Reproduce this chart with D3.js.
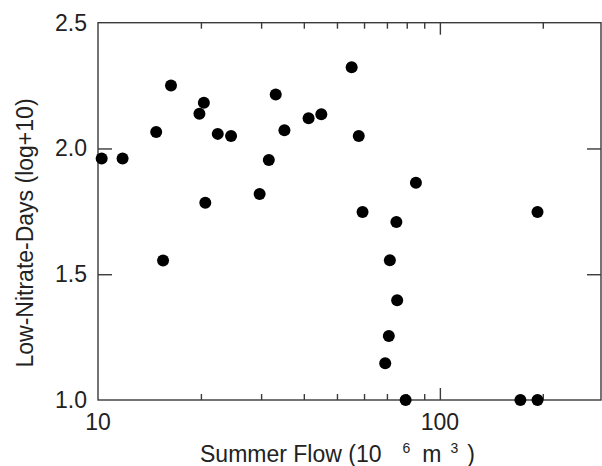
<!DOCTYPE html>
<html>
<head>
	<meta charset="utf-8">
	<title>low-nitrate-days</title>
	<style type="text/css">
		body { margin: 0; background: #fff; }
		text { font-family: "Liberation Sans", Arial, sans-serif; fill: #222; }
	</style>
</head>
<body>
<script type="text/javascript" src="https://cdn.jsdelivr.net/npm/d3@7/dist/d3.min.js"></script>
<script type="text/javascript">
	// data
	var flow = [10.25, 11.8, 14.8, 16.35, 15.5, 19.8, 20.4, 20.6, 22.4, 24.5,
		29.7, 31.6, 33.1, 35.1, 41.3, 45.0, 55.2, 57.9, 85.1, 59.4,
		74.6, 71.4, 75.0, 70.9, 69.2, 79.4, 172, 193, 193];
	var days = [1.96, 1.96, 2.065, 2.25, 1.555, 2.138, 2.182, 1.784, 2.058, 2.05,
		1.819, 1.954, 2.215, 2.072, 2.12, 2.136, 2.323, 2.05, 1.864, 1.747,
		1.708, 1.556, 1.397, 1.254, 1.146, 1.0, 1.0, 1.0, 1.747];
	var yTicks = [1.0, 1.5, 2.0, 2.5];
	var xLabels = [10, 100];
	var xMinor = [20, 30, 40, 50, 60, 70, 80, 90, 200];

	var w = 602, h = 466;
	var pLeft = 98, pRight = 601, pTop = 22.7, pBottom = 400;

	var svg = d3.select("body").append("svg").attr("width", w).attr("height", h);

	var x = d3.scaleLog().domain([10, 296]).range([pLeft, pRight]);
	var y = d3.scaleLinear().domain([1, 2.5]).range([pBottom, pTop]);

	var line = "#3a3a3a";

	// frame
	svg.append("rect")
		.attr("x", pLeft).attr("y", pTop)
		.attr("width", pRight - pLeft).attr("height", pBottom - pTop)
		.attr("fill", "none").attr("stroke", line).attr("stroke-width", 1.4);

	// inside ticks, all four sides
	function ticks(axis, tx, ty) {
		var g = svg.append("g").attr("transform", "translate(" + tx + "," + ty + ")").call(axis);
		g.select(".domain").remove();
		g.selectAll(".tick line").attr("stroke", line).attr("stroke-width", 1.4);
		g.selectAll("text").remove();
	}
	ticks(d3.axisBottom(x).tickValues(xMinor).tickSize(-6), 0, pBottom);
	ticks(d3.axisBottom(x).tickValues([100]).tickSize(-12), 0, pBottom);
	ticks(d3.axisTop(x).tickValues(xMinor).tickSize(-6), 0, pTop);
	ticks(d3.axisTop(x).tickValues([100]).tickSize(-12), 0, pTop);
	ticks(d3.axisLeft(y).tickValues([1.5, 2.0]).tickSize(-14), pLeft, 0);
	ticks(d3.axisRight(y).tickValues([1.5, 2.0]).tickSize(-14), pRight, 0);

	// tick labels
	svg.selectAll("text.ylab").data(yTicks).enter().append("text")
		.attr("class", "ylab")
		.attr("x", 87).attr("y", d => y(d) + 8)
		.attr("text-anchor", "end").attr("font-size", 23)
		.text(d => d.toFixed(1));
	svg.selectAll("text.xlab").data(xLabels).enter().append("text")
		.attr("class", "xlab")
		.attr("x", d => x(d)).attr("y", 430)
		.attr("text-anchor", "middle").attr("font-size", 23)
		.text(d => d);

	// axis titles
	var xt = svg.append("text").attr("x", 200).attr("y", 462).attr("font-size", 23);
	xt.append("tspan").text("Summer Flow (10");
	xt.append("tspan").attr("dx", 21).attr("dy", -9).attr("font-size", 14).text("6");
	xt.append("tspan").attr("dx", 12).attr("dy", 9).text("m");
	xt.append("tspan").attr("dx", 9).attr("dy", -9).attr("font-size", 14).text("3");
	xt.append("tspan").attr("dx", 9).attr("dy", 9).text(")");

	svg.append("text")
		.attr("transform", "translate(33,233) rotate(-90)")
		.attr("text-anchor", "middle").attr("font-size", 23)
		.text("Low-Nitrate-Days (log+10)");

	// points
	svg.selectAll("circle").data(flow).enter().append("circle")
		.attr("cx", d => x(d))
		.attr("cy", (d, i) => y(days[i]))
		.attr("r", 6)
		.attr("fill", "#000");
</script>
</body>
</html>
